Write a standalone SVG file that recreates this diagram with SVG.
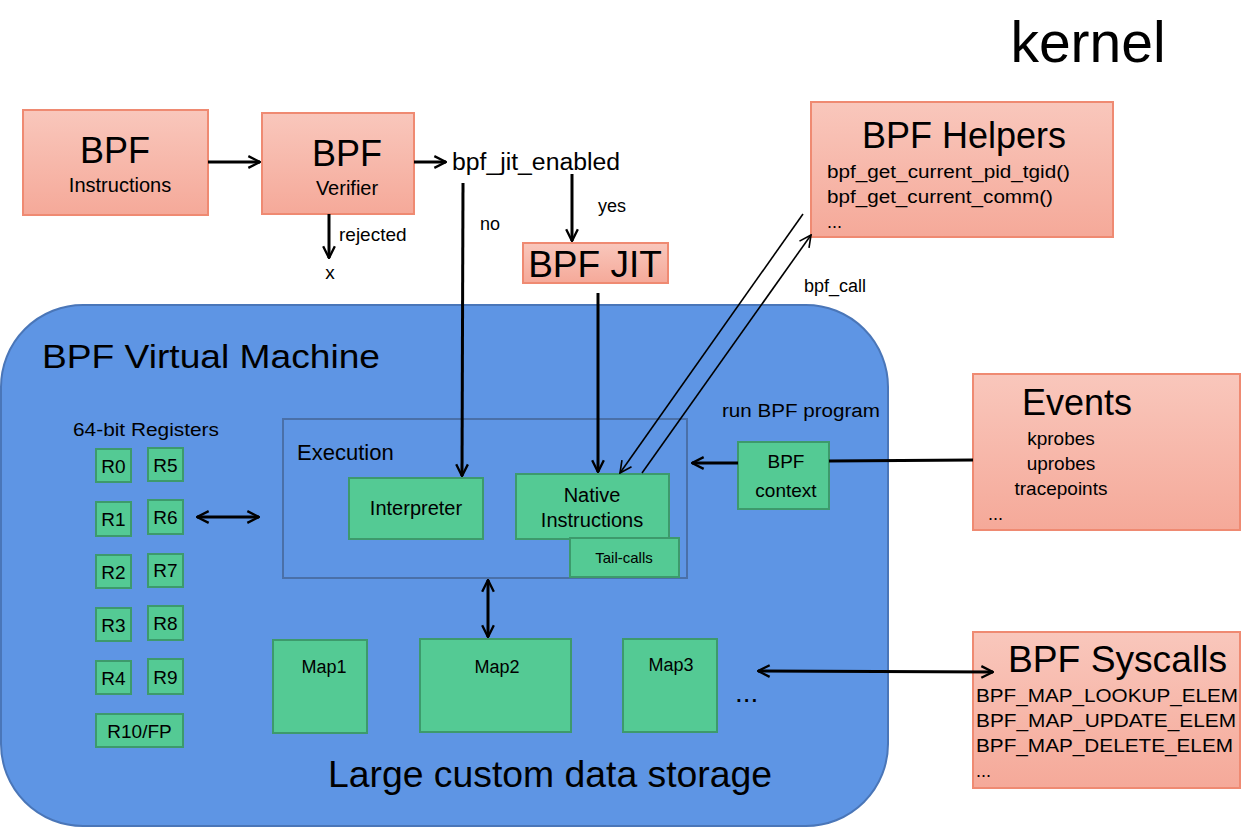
<svg xmlns="http://www.w3.org/2000/svg" width="1255" height="828" viewBox="0 0 1255 828">
<defs>
<linearGradient id="salmon" x1="0" y1="0" x2="0" y2="1">
<stop offset="0" stop-color="#f9c7bc"/>
<stop offset="1" stop-color="#f5a999"/>
</linearGradient>
<marker id="arr" viewBox="0 0 12 12" refX="11" refY="6" markerWidth="14" markerHeight="14" markerUnits="userSpaceOnUse" orient="auto-start-reverse">
<path d="M1,1 L11,6 L1,11" fill="none" stroke="#000" stroke-width="2"/>
</marker>
<marker id="arrs" viewBox="0 0 12 12" refX="11" refY="6" markerWidth="14" markerHeight="14" markerUnits="userSpaceOnUse" orient="auto-start-reverse">
<path d="M1,1 L11,6 L1,11" fill="none" stroke="#000" stroke-width="1.4"/>
</marker>
</defs>
<style>
text { font-family: "Liberation Sans", Arial, sans-serif; fill: #000; }
.pink { fill: url(#salmon); stroke: #ef8a72; stroke-width: 2; }
.green { fill: #54ca94; stroke: #3d9a6c; stroke-width: 2; }
.c { stroke: #000; stroke-width: 3; fill: none; }
.t { stroke: #000; stroke-width: 1.6; fill: none; }
.mid { text-anchor: middle; }
</style>
<rect width="1255" height="828" fill="#fff"/>

<text x="1088" y="62" font-size="57" class="mid">kernel</text>

<g id="vm">
<rect x="1" y="305" width="887" height="521" rx="82" ry="82" fill="#5e95e4" stroke="#4a76b8" stroke-width="2"/>
<text x="42" y="368" font-size="34" textLength="338" lengthAdjust="spacingAndGlyphs">BPF Virtual Machine</text>
<text x="328" y="787" font-size="36" textLength="444" lengthAdjust="spacingAndGlyphs">Large custom data storage</text>
</g>

<g id="bpf-instructions">
<rect class="pink" x="23" y="110" width="185" height="105"/>
<text x="115" y="163" font-size="36" class="mid">BPF</text>
<text x="120" y="192" font-size="20" class="mid">Instructions</text>
</g>

<g id="bpf-verifier">
<rect class="pink" x="262" y="113" width="152" height="101"/>
<text x="347" y="166" font-size="36" class="mid">BPF</text>
<text x="347" y="195" font-size="20" class="mid">Verifier</text>
</g>

<g id="bpf-jit-enabled">
<text x="452" y="170" font-size="23" textLength="168" lengthAdjust="spacingAndGlyphs">bpf_jit_enabled</text>
</g>

<g id="bpf-jit">
<rect class="pink" x="523" y="243" width="145" height="40"/>
<text x="595" y="277" font-size="37" class="mid">BPF JIT</text>
</g>

<g id="bpf-helpers">
<rect class="pink" x="811" y="102" width="302" height="135"/>
<text x="964" y="148" font-size="36" class="mid">BPF Helpers</text>
<text x="827" y="178" font-size="18" textLength="243" lengthAdjust="spacingAndGlyphs">bpf_get_current_pid_tgid()</text>
<text x="827" y="203" font-size="18" textLength="226" lengthAdjust="spacingAndGlyphs">bpf_get_current_comm()</text>
<text x="827" y="228" font-size="18">...</text>
</g>

<g id="events">
<rect class="pink" x="973" y="374" width="267" height="156"/>
<text x="1077" y="415" font-size="36" class="mid">Events</text>
<text x="1061" y="445" font-size="19" class="mid">kprobes</text>
<text x="1061" y="470" font-size="19" class="mid">uprobes</text>
<text x="1061" y="495" font-size="19" class="mid">tracepoints</text>
<text x="988" y="520" font-size="18">...</text>
</g>

<g id="bpf-syscalls">
<rect class="pink" x="973" y="632" width="267" height="156"/>
<text x="1008" y="672" font-size="36" textLength="219" lengthAdjust="spacingAndGlyphs">BPF Syscalls</text>
<text x="976" y="702" font-size="19" textLength="262" lengthAdjust="spacingAndGlyphs">BPF_MAP_LOOKUP_ELEM</text>
<text x="976" y="727" font-size="19" textLength="260" lengthAdjust="spacingAndGlyphs">BPF_MAP_UPDATE_ELEM</text>
<text x="976" y="752" font-size="19" textLength="257" lengthAdjust="spacingAndGlyphs">BPF_MAP_DELETE_ELEM</text>
<text x="976" y="777" font-size="18">...</text>
</g>

<g id="registers">
<text x="73" y="436" font-size="18" textLength="146" lengthAdjust="spacingAndGlyphs">64-bit Registers</text>
<rect class="green" x="96" y="449" width="35" height="33"/><text x="113.5" y="473" font-size="19" class="mid">R0</text>
<rect class="green" x="148" y="448" width="35" height="33"/><text x="165.5" y="472" font-size="19" class="mid">R5</text>
<rect class="green" x="96" y="502" width="35" height="34"/><text x="113.5" y="526" font-size="19" class="mid">R1</text>
<rect class="green" x="148" y="500" width="35" height="34"/><text x="165.5" y="524" font-size="19" class="mid">R6</text>
<rect class="green" x="96" y="555" width="35" height="33"/><text x="113.5" y="579" font-size="19" class="mid">R2</text>
<rect class="green" x="148" y="554" width="35" height="33"/><text x="165.5" y="577" font-size="19" class="mid">R7</text>
<rect class="green" x="96" y="608" width="35" height="33"/><text x="113.5" y="632" font-size="19" class="mid">R3</text>
<rect class="green" x="148" y="606" width="35" height="34"/><text x="165.5" y="630" font-size="19" class="mid">R8</text>
<rect class="green" x="96" y="661" width="35" height="33"/><text x="113.5" y="685" font-size="19" class="mid">R4</text>
<rect class="green" x="148" y="659" width="35" height="35"/><text x="165.5" y="684" font-size="19" class="mid">R9</text>
<rect class="green" x="96" y="714" width="87" height="33"/><text x="139.5" y="738" font-size="19" class="mid">R10/FP</text>
</g>

<g id="execution">
<rect x="283" y="419" width="404" height="159" fill="none" stroke="#4a70a8" stroke-width="2"/>
<text x="297" y="460" font-size="22">Execution</text>
</g>

<g id="interpreter">
<rect class="green" x="349" y="478" width="134" height="61"/>
<text x="416" y="515" font-size="20" class="mid">Interpreter</text>
</g>

<g id="native-instructions">
<rect class="green" x="516" y="474" width="153" height="65"/>
<text x="592" y="502" font-size="20" class="mid">Native</text>
<text x="592" y="527" font-size="20" class="mid">Instructions</text>
</g>

<g id="tail-calls">
<rect class="green" x="570" y="538" width="109" height="39"/>
<text x="624" y="563" font-size="15" class="mid">Tail-calls</text>
</g>

<g id="bpf-context">
<rect class="green" x="738" y="442" width="91" height="67"/>
<text x="786" y="468" font-size="19" class="mid">BPF</text>
<text x="786" y="497" font-size="19" class="mid">context</text>
</g>

<g id="maps">
<rect class="green" x="273" y="640" width="94" height="93"/><text x="324" y="673" font-size="18" class="mid">Map1</text>
<rect class="green" x="420" y="639" width="151" height="93"/><text x="497" y="673" font-size="18" class="mid">Map2</text>
<rect class="green" x="623" y="639" width="94" height="93"/><text x="671" y="671" font-size="18" class="mid">Map3</text>
<text x="735" y="702" font-size="28">...</text>
</g>

<g id="connectors">
<line class="c" x1="208" y1="162" x2="260" y2="162" marker-end="url(#arr)"/>
<line class="c" x1="329" y1="214" x2="329" y2="258" marker-end="url(#arr)"/>
<text x="339" y="241" font-size="19">rejected</text>
<text x="330" y="279" font-size="19" class="mid">x</text>
<line class="c" x1="414" y1="162" x2="446" y2="162" marker-end="url(#arr)"/>
<line class="c" x1="463" y1="183" x2="462" y2="476" marker-end="url(#arr)"/>
<text x="480" y="230" font-size="18">no</text>
<line class="c" x1="572" y1="174" x2="572" y2="241" marker-end="url(#arr)"/>
<text x="598" y="212" font-size="18">yes</text>
<line class="c" x1="598" y1="293" x2="598" y2="472" marker-end="url(#arr)"/>
<line class="t" x1="803" y1="214" x2="620" y2="473" marker-end="url(#arrs)"/>
<line class="t" x1="642" y1="473" x2="811" y2="235" marker-end="url(#arrs)"/>
<text x="804" y="292" font-size="18">bpf_call</text>
<text x="722" y="417" font-size="18" textLength="158" lengthAdjust="spacingAndGlyphs">run BPF program</text>
<line class="c" x1="973" y1="460" x2="829" y2="461"/>
<line class="c" x1="738" y1="463" x2="692" y2="463" marker-end="url(#arr)"/>
<line class="c" x1="197" y1="517" x2="259" y2="517" marker-start="url(#arr)" marker-end="url(#arr)"/>
<line class="c" x1="488" y1="580" x2="488" y2="637" marker-start="url(#arr)" marker-end="url(#arr)"/>
<line class="c" x1="758" y1="671" x2="993" y2="672" marker-start="url(#arr)" marker-end="url(#arr)"/>
</g>
</svg>
